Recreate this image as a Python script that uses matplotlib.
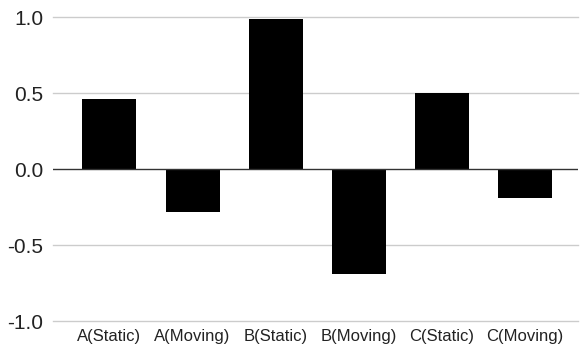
import matplotlib.pyplot as plt
import numpy as np

plt.rcParams['font.family'] = ['Liberation Sans', 'DejaVu Sans']

categories = ['A(Static)', 'A(Moving)', 'B(Static)', 'B(Moving)', 'C(Static)', 'C(Moving)']
values = [0.46, -0.28, 0.99, -0.69, 0.50, -0.19]
yticks = [-1.0, -0.5, 0.0, 0.5, 1.0]

fig = plt.figure(figsize=(5.8, 3.49), dpi=100)
ax = fig.add_axes([0.0914, 0.0802, 0.905, 0.871])

x = np.arange(len(categories))
for yt in yticks:
    if yt == 0:
        continue
    ax.axhline(yt, color='#cccccc', lw=1, zorder=0, clip_on=False)
ax.bar(x, values, width=0.65, color='black', zorder=2)
ax.axhline(0, color='#333333', lw=1, zorder=3)

ax.set_ylim(-1.0, 1.0)
ax.set_xlim(-0.68, 5.64)
ax.set_yticks(yticks)
ax.set_yticklabels([f'{v:.1f}' for v in yticks], fontsize=15, color='#222222')
ax.set_xticks(x)
ax.set_xticklabels(categories, fontsize=12, color='#222222')
ax.tick_params(axis='both', length=0)
ax.tick_params(axis='y', pad=7)
ax.tick_params(axis='x', pad=6)
for s in ax.spines.values():
    s.set_visible(False)

fig.savefig('out.png', dpi=100)
